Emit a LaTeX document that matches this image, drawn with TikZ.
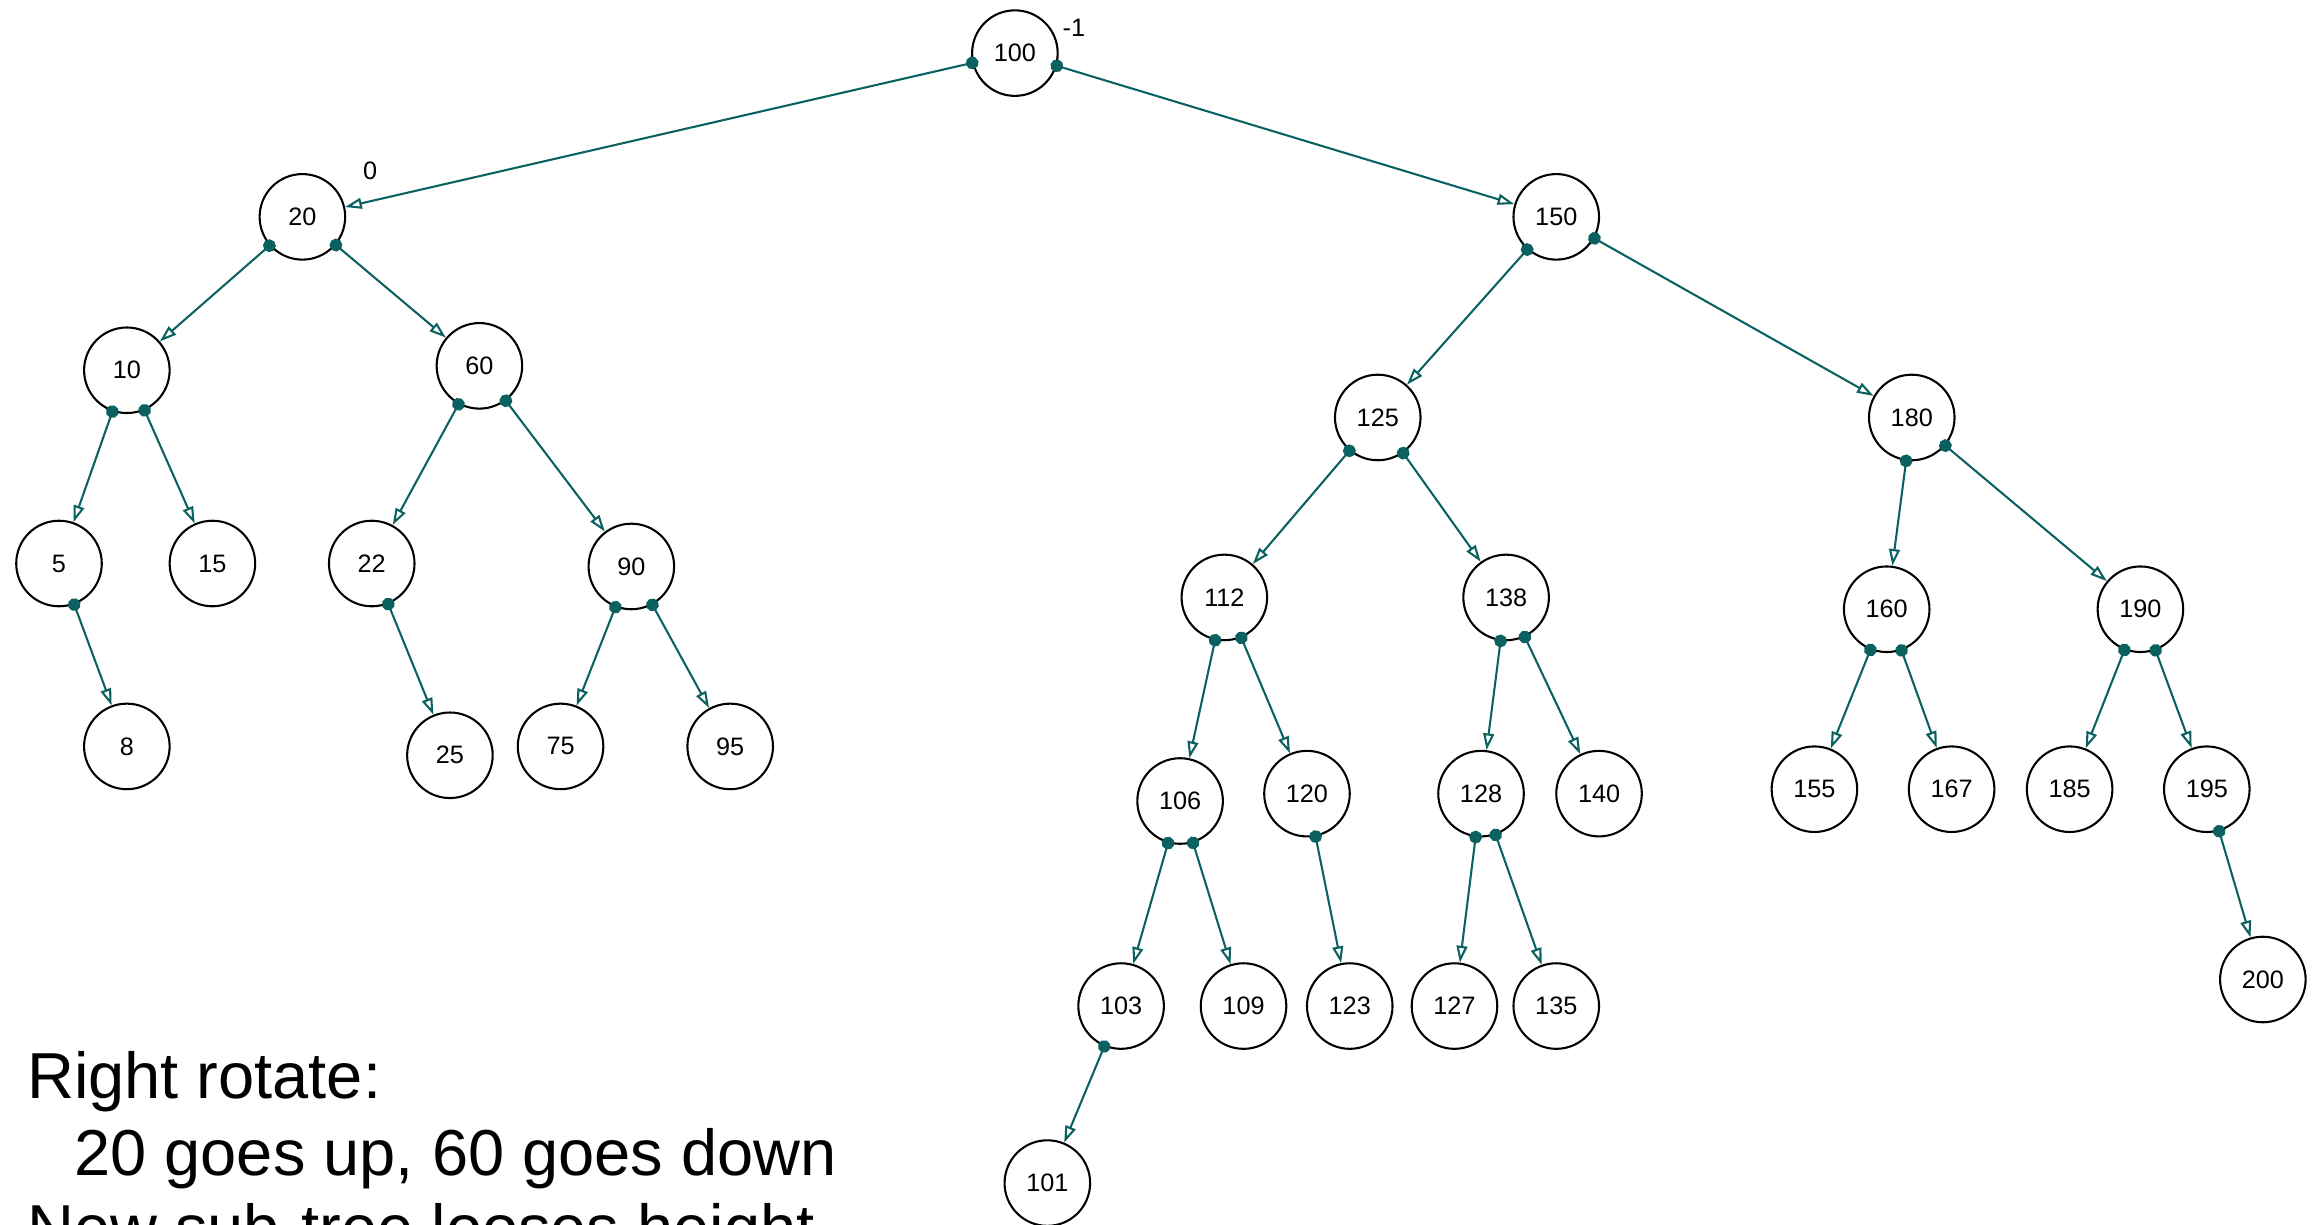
\documentclass[tikz,border=0pt]{standalone}
\usepackage{fontspec}
\setmainfont{Liberation Sans}
\usetikzlibrary{arrows.meta}
\definecolor{edgeteal}{HTML}{0A6160}
\tikzset{
  key/.style={circle, draw=black, line width=0.6pt, minimum size=8.7mm, inner sep=0pt,
              font=\fontsize{7.3}{8}\selectfont},
  link/.style={draw=edgeteal, line width=0.6pt,
               {Circle[length=1.3mm, fill=edgeteal]}-{Triangle[open, length=1.7mm, width=1.1mm]},
               shorten <=-0.65mm},
  balance/.style={font=\fontsize{7.3}{8}\selectfont, inner sep=0pt},
  note/.style={font=\fontsize{18.8}{22}\selectfont, inner sep=0pt, anchor=base west}
}
\begin{document}
\begin{tikzpicture}[x=0.15mm, y=-0.15mm]
\useasboundingbox (0,0) rectangle (1568,830);
\clip (0,0) rectangle (1568,830);

% keys of the tree
\node[key] (n100) at (688,36) {100};
\node[key] (n20)  at (205,147) {20};
\node[key] (n150) at (1055,147) {150};
\node[key] (n10)  at (86,251) {10};
\node[key] (n60)  at (325,248) {60};
\node[key] (n125) at (934,283) {125};
\node[key] (n180) at (1296,283) {180};
\node[key] (n5)   at (40,382) {5};
\node[key] (n15)  at (144,382) {15};
\node[key] (n22)  at (252,382) {22};
\node[key] (n90)  at (428,384) {90};
\node[key] (n112) at (830,405) {112};
\node[key] (n138) at (1021,405) {138};
\node[key] (n160) at (1279,413) {160};
\node[key] (n190) at (1451,413) {190};
\node[key] (n8)   at (86,506) {8};
\node[key] (n25)  at (305,512) {25};
\node[key] (n75)  at (380,506) {75};
\node[key] (n95)  at (495,506) {95};
\node[key] (n106) at (800,543) {106};
\node[key] (n120) at (886,538) {120};
\node[key] (n128) at (1004,538) {128};
\node[key] (n140) at (1084,538) {140};
\node[key] (n155) at (1230,535) {155};
\node[key] (n167) at (1323,535) {167};
\node[key] (n185) at (1403,535) {185};
\node[key] (n195) at (1496,535) {195};
\node[key] (n103) at (760,682) {103};
\node[key] (n109) at (843,682) {109};
\node[key] (n123) at (915,682) {123};
\node[key] (n127) at (986,682) {127};
\node[key] (n135) at (1055,682) {135};
\node[key] (n200) at (1534,664) {200};
\node[key] (n101) at (710,802) {101};

% balance factors
\node[balance] (bf100) at (728,19) {-1};
\node[balance] (bf20)  at (251,116) {0};

% parent -> child links
\foreach \p/\c in {n100/n20, n100/n150,
                   n20/n10, n20/n60, n10/n5, n10/n15, n60/n22, n60/n90,
                   n5/n8, n22/n25, n90/n75, n90/n95,
                   n150/n125, n150/n180, n125/n112, n125/n138,
                   n180/n160, n180/n190, n112/n106, n112/n120,
                   n138/n128, n138/n140, n160/n155, n160/n167,
                   n190/n185, n190/n195, n106/n103, n106/n109,
                   n120/n123, n128/n127, n128/n135, n195/n200, n103/n101}
  \draw[link] (\p) -- (\c);

% explanation
\node[note] (t1) at (18,745) {Right rotate:};
\node[note] (t2) at (50,797) {20 goes up, 60 goes down};
\node[note] (t3) at (18,848) {New sub-tree looses height};
\end{tikzpicture}
\end{document}
